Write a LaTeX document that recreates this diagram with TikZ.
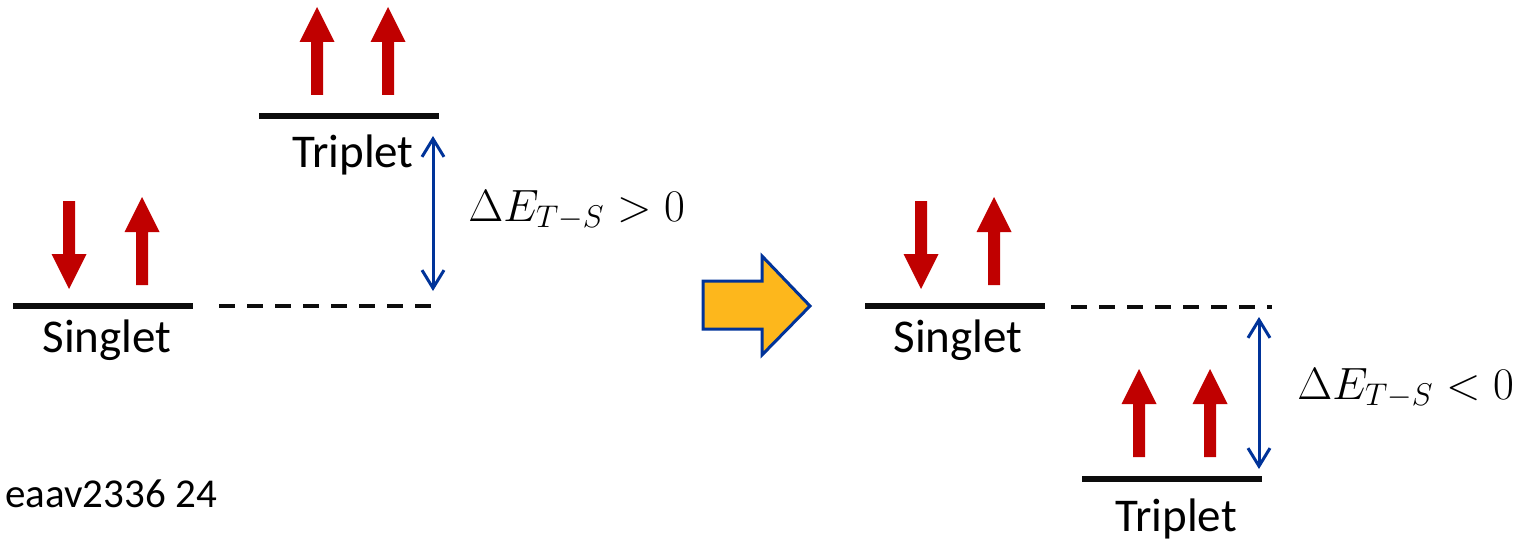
\documentclass[tikz,border=0pt]{standalone}
\usepackage{fontspec}
\setmainfont{Carlito}
\usetikzlibrary{arrows.meta}
\definecolor{spinred}{HTML}{C00000}
\definecolor{gapblue}{HTML}{003399}
\definecolor{bigyellow}{HTML}{FDB71C}
\definecolor{levelblack}{HTML}{0D0D0D}
\tikzset{
  level/.style={levelblack, line width=3pt},
  reflevel/.style={levelblack, line width=2pt, dash pattern=on 8pt off 6pt},
  gap/.style={gapblue, line width=1.5pt, {Straight Barb[length=9pt,width=11pt]}-{Straight Barb[length=9pt,width=11pt]}},
  label/.style={font=\fontsize{23.5}{28}\selectfont, inner sep=0pt, anchor=base},
  mathlabel/.style={font=\fontsize{21.5}{26}\selectfont, inner sep=0pt, anchor=base west},
  spinup/.pic={\fill[spinred] (-6,0) -- (-6,-53) -- (-17.5,-53) -- (0,-88) -- (17.5,-53) -- (6,-53) -- (6,0) -- cycle;},
  spindown/.pic={\fill[spinred] (-6,0) -- (-6,53) -- (-17.5,53) -- (0,88) -- (17.5,53) -- (6,53) -- (6,0) -- cycle;}
}
\begin{document}
\begin{tikzpicture}[x=0.5pt,y=-0.5pt]
\useasboundingbox (0,0) rectangle (1516,540);
% ---------- left panel ----------
\coordinate (s1a) at (13,306);  \coordinate (s1b) at (193,306);
\coordinate (d1a) at (219,306); \coordinate (d1b) at (432,306);
\coordinate (t1a) at (259,116); \coordinate (t1b) at (439,116);
\draw[level] (s1a) -- (s1b);
\draw[reflevel] (d1a) -- (d1b);
\draw[level] (t1a) -- (t1b);
\pic at (69,201) {spindown};
\pic at (142,285) {spinup};
\pic at (317,95) {spinup};
\pic at (388,95) {spinup};
\coordinate (g1top) at (433,136);
\coordinate (g1bot) at (433,291);
\draw[gap] (g1top) -- (g1bot);
\node[label] (singlet1) at (107,352) {Singlet};
\node[label] (triplet1) at (353,168) {Triplet};
\node[mathlabel] (de1) at (468,221) {\scalebox{1.09}{$\Delta E_{T-S}>0$}};
% ---------- big arrow ----------
\fill[bigyellow, draw=gapblue, line width=1.5pt, line join=miter]
  (703,281) -- (762,281) -- (762,256) -- (810,306) -- (762,355) -- (762,329) -- (703,329) -- cycle;
% ---------- right panel ----------
\coordinate (s2a) at (865,306);  \coordinate (s2b) at (1045,306);
\coordinate (d2a) at (1071,307); \coordinate (d2b) at (1272,307);
\coordinate (t2a) at (1082,479); \coordinate (t2b) at (1262,479);
\draw[level] (s2a) -- (s2b);
\draw[reflevel] (d2a) -- (d2b);
\draw[level] (t2a) -- (t2b);
\pic at (921,201) {spindown};
\pic at (994,285) {spinup};
\pic at (1139,457) {spinup};
\pic at (1210,457) {spinup};
\coordinate (g2top) at (1259,317);
\coordinate (g2bot) at (1259,469);
\draw[gap] (g2top) -- (g2bot);
\node[label] (singlet2) at (958,352) {Singlet};
\node[label] (triplet2) at (1176,531) {Triplet};
\node[mathlabel] (de2) at (1297,399) {\scalebox{1.09}{$\Delta E_{T-S}<0$}};
% ---------- caption ----------
\node[font=\fontsize{20.5}{24}\selectfont, inner sep=0pt, anchor=base west] (cap) at (5,507) {eaav2336 24};
\end{tikzpicture}
\end{document}
